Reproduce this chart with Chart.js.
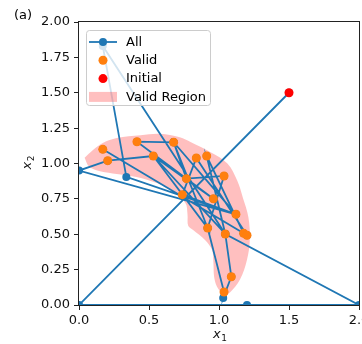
<!DOCTYPE html>
<html>
<head>
<meta charset="utf-8">
<script src="https://cdn.jsdelivr.net/npm/chart.js@4.4.1/dist/chart.umd.min.js"></script>
<style>
  html, body { margin: 0; padding: 0; overflow: hidden; background: #fff; width: 362px; height: 344px; }
  canvas { display: block; }
</style>
</head>
<body>
<canvas id="c" width="380" height="344" style="width:380px;height:344px"></canvas>
<script>
// Every iterate visited by the search, in visiting order
const allX = [1.50, 0.00, 1.20, 2.00, 1.045, 0.17, 0.338, 1.121, 0.00, 0.205, 0.531, 0.96, 0.414, 0.676, 0.767, 1.036, 0.919, 1.036, 1.03, 1.088, 1.045, 0.912, 1.176, 0.17, 1.20, 0.838, 0.738, 1.121, 0.676, 0.919, 0.531, 1.045];
const allY = [1.50, 0.00, 0.00, 0.00, 0.502, 1.83, 0.905, 0.641, 0.95, 1.02, 1.053, 0.751, 1.154, 1.15, 0.893, 0.912, 0.544, 0.092, 0.05, 0.20, 0.502, 1.053, 0.507, 1.10, 0.493, 1.039, 0.78, 0.641, 1.15, 0.544, 1.053, 0.502];

// Iterates that satisfy the constraints
const validX = [0.17, 0.205, 0.414, 0.531, 0.676, 0.838, 0.912, 0.767, 0.738, 1.036, 0.96, 1.121, 0.919, 1.045, 1.176, 1.20, 1.088, 1.036];
const validY = [1.10, 1.02, 1.154, 1.053, 1.15, 1.039, 1.053, 0.893, 0.78, 0.912, 0.751, 0.641, 0.544, 0.502, 0.507, 0.493, 0.20, 0.092];

// Starting point
const initialX = [1.5];
const initialY = [1.5];

// Outline of the feasible band (outer arc, then inner arc back to the start)
const regionX = [0.04, 0.10, 0.17, 0.27, 0.44, 0.58, 0.72, 0.80, 0.94, 1.06, 1.13, 1.17, 1.21, 1.22, 1.20, 1.15, 1.08, 1.04,
                 1.02, 0.985, 0.965, 0.96, 0.95, 0.90, 0.815, 0.78, 0.775, 0.76, 0.67, 0.56, 0.41, 0.24, 0.13, 0.07, 0.04];
const regionY = [1.04, 1.095, 1.145, 1.18, 1.20, 1.21, 1.185, 1.15, 1.08, 1.00, 0.88, 0.76, 0.62, 0.46, 0.32, 0.18, 0.09, 0.075,
                 0.085, 0.13, 0.20, 0.30, 0.39, 0.46, 0.53, 0.56, 0.64, 0.72, 0.80, 0.86, 0.905, 0.93, 0.95, 0.98, 1.04];

// Axis ticks
const xTicks = [0, 0.5, 1.0, 1.5, 2.0];
const xTickLabels = ['0.0', '0.5', '1.0', '1.5', '2.0'];
const yTicks = [0, 0.25, 0.5, 0.75, 1.0, 1.25, 1.5, 1.75, 2.0];
const yTickLabels = ['0.00', '0.25', '0.50', '0.75', '1.00', '1.25', '1.50', '1.75', '2.00'];

const legendNames = ['All', 'Valid', 'Initial', 'Valid Region'];

const BLUE = '#1f77b4';
const ORANGE = '#ff7f0e';
const RED = '#ff0000';
const PINK = 'rgba(255,0,0,0.25)';
const FONT = 'DejaVu Sans';
const FS = 13;

const pts = (xs, ys) => xs.map((x, i) => ({x, y: ys[i]}));

Chart.defaults.font.family = FONT;
Chart.defaults.font.size = FS;
Chart.defaults.color = '#111';

// Italic variable with a smaller, lowered index, e.g. x with subscript 1
function drawSubscripted(ctx, base, sub, x, y) {
  ctx.font = 'italic ' + FS + 'px "' + FONT + '"';
  ctx.fillText(base, x, y);
  const w = ctx.measureText(base).width;
  ctx.font = '9px "' + FONT + '"';
  ctx.fillText(sub, x + w + 0.5, y + 3);
}

// Frame, axis names, panel tag and legend box drawn on top of the datasets
const decorations = {
  id: 'decorations',
  afterDatasetsDraw(chart) {
    const {ctx, chartArea: a} = chart;
    ctx.save();
    ctx.strokeStyle = '#222';
    ctx.lineWidth = 1;
    ctx.strokeRect(a.left - 0.5, a.top - 0.5, a.right - a.left + 1, a.bottom - a.top + 1);

    // legend
    const bx = a.left + 7, by = a.top + 8, bw = 124, bh = 75, r = 3;
    ctx.beginPath();
    ctx.roundRect(bx + 0.5, by + 0.5, bw, bh, r);
    ctx.fillStyle = 'rgba(255,255,255,0.8)';
    ctx.fill();
    ctx.strokeStyle = '#cccccc';
    ctx.stroke();

    const hx0 = bx + 3, hx1 = bx + 31, hxm = (hx0 + hx1) / 2;
    const rowY = i => by + 12 + i * 18.3;
    ctx.font = FS + 'px "' + FONT + '"';
    ctx.textBaseline = 'middle';
    ctx.textAlign = 'left';
    // All: line with marker
    ctx.strokeStyle = BLUE; ctx.lineWidth = 1.8;
    ctx.beginPath(); ctx.moveTo(hx0, rowY(0)); ctx.lineTo(hx1, rowY(0)); ctx.stroke();
    ctx.fillStyle = BLUE; ctx.beginPath(); ctx.arc(hxm, rowY(0), 4, 0, Math.PI * 2); ctx.fill();
    // Valid
    ctx.fillStyle = ORANGE; ctx.beginPath(); ctx.arc(hxm, rowY(1), 4.5, 0, Math.PI * 2); ctx.fill();
    // Initial
    ctx.fillStyle = RED; ctx.beginPath(); ctx.arc(hxm, rowY(2), 4.5, 0, Math.PI * 2); ctx.fill();
    // Valid Region patch
    ctx.fillStyle = PINK; ctx.fillRect(hx0, rowY(3) - 5, hx1 - hx0, 10);

    ctx.fillStyle = '#000';
    legendNames.forEach((t, i) => ctx.fillText(t, bx + 40, rowY(i) + 0.5));

    // panel tag
    ctx.fillText('(a)', 14, 16);

    // axis names
    ctx.fillStyle = '#111';
    ctx.textBaseline = 'alphabetic';
    drawSubscripted(ctx, 'x', '1', (a.left + a.right) / 2 - 6, 338);
    ctx.save();
    ctx.translate(31, (a.top + a.bottom) / 2 + 6);
    ctx.rotate(-Math.PI / 2);
    drawSubscripted(ctx, 'x', '2', 0, 0);
    ctx.restore();

    ctx.restore();
  }
};

new Chart(document.getElementById('c'), {
  type: 'line',
  data: {
    datasets: [
      {
        label: 'Initial',
        data: pts(initialX, initialY),
        showLine: false,
        pointRadius: 4.5,
        pointBackgroundColor: RED,
        pointBorderWidth: 0,
        order: 1,
        clip: 0
      },
      {
        label: 'Valid',
        data: pts(validX, validY),
        showLine: false,
        pointRadius: 4.5,
        pointBackgroundColor: ORANGE,
        pointBorderWidth: 0,
        order: 2,
        clip: 0
      },
      {
        label: 'All',
        data: pts(allX, allY),
        borderColor: BLUE,
        borderWidth: 1.8,
        pointRadius: 4,
        pointBackgroundColor: BLUE,
        pointBorderWidth: 0,
        tension: 0,
        fill: false,
        order: 3,
        clip: 0
      },
      {
        label: 'Valid Region',
        data: pts(regionX, regionY),
        borderWidth: 0,
        borderColor: 'rgba(0,0,0,0)',
        backgroundColor: PINK,
        pointRadius: 0,
        tension: 0.35,
        fill: 'shape',
        order: 4,
        clip: 0
      }
    ]
  },
  options: {
    responsive: false,
    animation: false,
    events: [],
    layout: { padding: { left: 0, right: 21, top: 22, bottom: 0 } },
    plugins: {
      legend: { display: false },
      tooltip: { enabled: false },
      title: { display: false }
    },
    scales: {
      x: {
        type: 'linear',
        min: 0, max: 2,
        afterBuildTicks: s => { s.ticks = xTicks.map(v => ({value: v})); },
        afterFit: s => { s.height = 39; },
        ticks: {
          callback: (v, i) => xTickLabels[i],
          padding: 3,
          maxRotation: 0,
          color: '#111',
          font: { size: FS }
        },
        grid: { display: true, drawOnChartArea: false, drawTicks: true, tickLength: 5, color: '#222', lineWidth: 1 },
        border: { display: false }
      },
      y: {
        type: 'linear',
        min: 0, max: 2,
        afterBuildTicks: s => { s.ticks = yTicks.map(v => ({value: v})); },
        afterFit: s => { s.width = 79; },
        ticks: {
          callback: (v, i) => yTickLabels[i],
          padding: 4,
          color: '#111',
          font: { size: FS }
        },
        grid: { display: true, drawOnChartArea: false, drawTicks: true, tickLength: 5, color: '#222', lineWidth: 1 },
        border: { display: false }
      }
    }
  },
  plugins: [decorations]
});
</script>
</body>
</html>
